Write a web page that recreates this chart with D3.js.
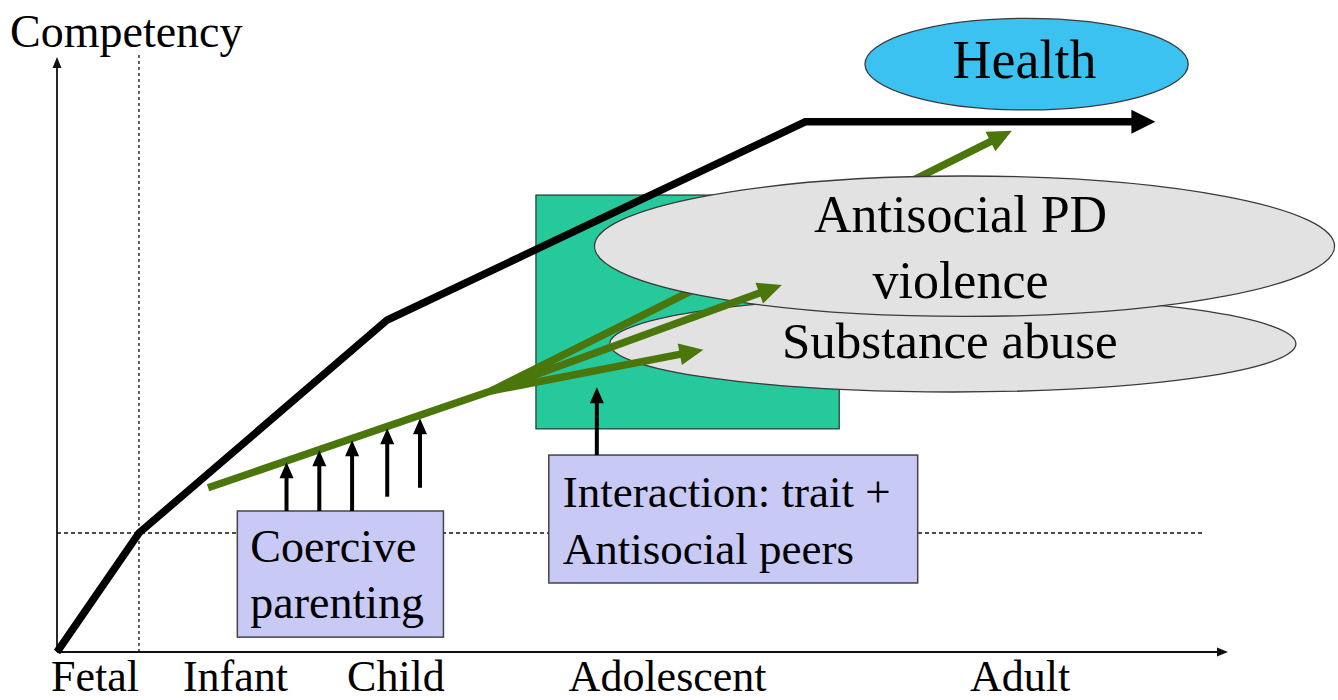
<!DOCTYPE html>
<html>
<head>
<meta charset="utf-8">
<script src="https://cdn.jsdelivr.net/npm/d3@7/dist/d3.min.js"></script>
<style>
  html, body { margin: 0; padding: 0; background: #fff; }
  svg text { font-family: "Liberation Serif", "Times New Roman", serif; fill: #000; }
</style>
</head>
<body>
<svg id="chart" width="1338" height="700"></svg>
<script>
// x = position along the life course (0-100), y = competency (0-100)
const stages = ["Fetal", "Infant", "Child", "Adolescent", "Adult"];
const stagePos = [3.2, 15.2, 28.9, 52.1, 82.2];

// normal competency trajectory
const trajectoryAge = [0, 7, 28.2, 63.9, 93.8];
const trajectoryComp = [0, 20, 55.8, 89.1, 89.1];

// dotted / dashed reference lines
const refAge = 7;
const refComp = 20;
const refCompEnd = 98;

// antisocial pathway (green)
const pathStart = [12.9, 27.6];
const pathSplit = [37.1, 43.9];
const branchNames = ["Health", "Antisocial PD", "Substance abuse"];
const branchTipAge = [81.55, 61.9, 55.2];
const branchTipComp = [87.6, 61.7, 50.8];

// coercive parenting pushes
const pushAge = [19.6, 22.4, 25.2, 28.2, 31.0];
const pushBase = [23.7, 23.7, 23.7, 26.1, 27.6];
const pushTip = [31.9, 33.9, 35.6, 37.6, 39.3];

// boxes: [x0, x1, yTop, yBottom]
const windowBox = [40.9, 66.8, 76.8, 37.5];
const coerciveBox = [15.4, 33.0, 23.7, 2.5];
const interactionBox = [42.0, 73.5, 33.1, 11.6];
const coerciveLines = ["Coercive", "parenting"];
const interactionLines = ["Interaction: trait +", "Antisocial peers"];
const interactionArrow = [46.1, 33.1, 44.5];

// outcome ellipses: [cx, cy, rx, ry]
const healthEllipse = [82.8, 98.8, 13.8, 7.7];
const antisocialEllipse = [77.5, 68.2, 31.6, 11.8];
const substanceEllipse = [76.5, 51.8, 29.3, 8.1];
const antisocialLines = ["Antisocial PD", "violence"];

const green = "#4b760c";

const svg = d3.select("#chart");
const x = d3.scaleLinear().domain([0, 100]).range([57, 1228]);
const y = d3.scaleLinear().domain([0, 100]).range([652, 57]);
const sx = (d) => x(d) - x(0);
const sy = (d) => y(0) - y(d);

function arrowHead(g, x1, y1, x2, y2, head, half, color) {
  const a = Math.atan2(y2 - y1, x2 - x1);
  const ux = Math.cos(a), uy = Math.sin(a);
  const bx = x2 - ux * head, by = y2 - uy * head;
  g.append("path")
    .attr("d", `M${x2},${y2}L${bx - uy * half},${by + ux * half}L${bx + uy * half},${by - ux * half}Z`)
    .attr("fill", color);
  return [bx + ux, by + uy];
}

function arrow(g, x1, y1, x2, y2, o) {
  const [ex, ey] = arrowHead(g, x1, y1, x2, y2, o.head, o.half, o.color);
  g.insert("line", "path:last-child")
    .attr("x1", x1).attr("y1", y1).attr("x2", ex).attr("y2", ey)
    .attr("stroke", o.color).attr("stroke-width", o.width);
}

// reference lines
svg.append("line")
  .attr("x1", x(refAge)).attr("x2", x(refAge))
  .attr("y1", y(0)).attr("y2", y(100) - 2)
  .attr("stroke", "#111").attr("stroke-width", 1.3)
  .attr("stroke-dasharray", "3,3");
svg.append("line")
  .attr("x1", x(0)).attr("x2", x(refCompEnd))
  .attr("y1", y(refComp)).attr("y2", y(refComp))
  .attr("stroke", "#111").attr("stroke-width", 1.3)
  .attr("stroke-dasharray", "4,3");

// axes
const axes = svg.append("g");
arrow(axes, x(0), y(0), x(0), y(100), { head: 11, half: 4.5, width: 1.8, color: "#111" });
arrow(axes, x(0), y(0), x(100), y(0), { head: 11, half: 4.5, width: 1.8, color: "#111" });

const xAxis = svg.append("g")
  .attr("transform", `translate(0,${y(0)})`)
  .call(d3.axisBottom(x).tickValues(stagePos).tickFormat((d, i) => stages[i]).tickSize(0).tickPadding(8));
xAxis.select(".domain").remove();
xAxis.selectAll("text")
  .attr("font-family", null)
  .style("font-size", "44px")
  .style("fill", "#000");

svg.append("text")
  .attr("x", x(0) - 47)
  .attr("y", y(100) - 10)
  .style("font-size", "46px")
  .text("Competency");

// adolescent window
svg.append("rect")
  .attr("x", x(windowBox[0])).attr("y", y(windowBox[2]))
  .attr("width", sx(windowBox[1] - windowBox[0]))
  .attr("height", sy(windowBox[2] - windowBox[3]))
  .attr("fill", "#26c99b").attr("stroke", "#1c3a30").attr("stroke-width", 1.2);

// label boxes
function labelBox(box, lines, padX, first, gap, size) {
  svg.append("rect")
    .attr("x", x(box[0])).attr("y", y(box[2]))
    .attr("width", sx(box[1] - box[0]))
    .attr("height", sy(box[2] - box[3]))
    .attr("fill", "#c9c9f6").attr("stroke", "#444").attr("stroke-width", 1.5);
  svg.selectAll(null)
    .data(lines)
    .enter()
    .append("text")
    .attr("x", x(box[0]) + padX)
    .attr("y", (d, i) => y(box[2]) + first + i * gap)
    .style("font-size", size + "px")
    .text((d) => d);
}
labelBox(coerciveBox, coerciveLines, 13, 51, 56, 46);
labelBox(interactionBox, interactionLines, 14, 52, 57, 45);

// normal trajectory
const traj = svg.append("g");
const pts = trajectoryAge.map((a, i) => [x(a), y(trajectoryComp[i])]);
const n = pts.length;
const lastEnd = arrowHead(traj, pts[n - 2][0], pts[n - 2][1], pts[n - 1][0], pts[n - 1][1], 24, 12, "#000");
traj.insert("path", "path")
  .attr("d", d3.line()([...pts.slice(0, n - 1), lastEnd]))
  .attr("fill", "none")
  .attr("stroke", "#000")
  .attr("stroke-width", 7.5)
  .attr("stroke-linejoin", "miter");

// interaction -> window arrow
arrow(svg.append("g"),
  x(interactionArrow[0]), y(interactionArrow[1]),
  x(interactionArrow[0]), y(interactionArrow[2]),
  { head: 16, half: 7, width: 4, color: "#000" });

function ellipse(e, fill) {
  svg.append("ellipse")
    .attr("cx", x(e[0])).attr("cy", y(e[1]))
    .attr("rx", sx(e[2])).attr("ry", sy(e[3]))
    .attr("fill", fill).attr("stroke", "#3a3a3a").attr("stroke-width", 1.3);
}

ellipse(substanceEllipse, "#e2e2e2");

// green pathway: main stem and the branch toward health (passes behind antisocial ellipse)
const greenOpts = { head: 24, half: 11, width: 7.5, color: green };
svg.append("line")
  .attr("x1", x(pathStart[0])).attr("y1", y(pathStart[1]))
  .attr("x2", x(pathSplit[0]) + 6).attr("y2", y(pathSplit[1]) - 2)
  .attr("stroke", green).attr("stroke-width", 7.5);
arrow(svg.append("g"), x(pathSplit[0]), y(pathSplit[1]), x(branchTipAge[0]), y(branchTipComp[0]), greenOpts);

ellipse(antisocialEllipse, "#e2e2e2");

for (let i = 1; i < branchNames.length; i++) {
  arrow(svg.append("g"), x(pathSplit[0]), y(pathSplit[1]), x(branchTipAge[i]), y(branchTipComp[i]), greenOpts);
}

ellipse(healthEllipse, "#3cc2f0");

// coercive parenting pushes
const pushes = svg.append("g");
pushAge.forEach((a, i) => {
  arrow(pushes, x(a), y(pushBase[i]), x(a), y(pushTip[i]), { head: 16, half: 7, width: 4, color: "#000" });
});

// outcome labels
svg.append("text")
  .attr("x", x(healthEllipse[0]) - 2)
  .attr("y", y(healthEllipse[1]) + 14)
  .attr("text-anchor", "middle")
  .style("font-size", "54px")
  .text(branchNames[0]);

svg.selectAll(null)
  .data(antisocialLines)
  .enter()
  .append("text")
  .attr("x", x(antisocialEllipse[0]) - 4)
  .attr("y", (d, i) => y(antisocialEllipse[1]) - 14 + i * 66)
  .attr("text-anchor", "middle")
  .style("font-size", "52px")
  .text((d) => d);

svg.append("text")
  .attr("x", x(substanceEllipse[0]) - 3)
  .attr("y", y(substanceEllipse[1]) + 14)
  .attr("text-anchor", "middle")
  .style("font-size", "51px")
  .text(branchNames[2]);
</script>
</body>
</html>
